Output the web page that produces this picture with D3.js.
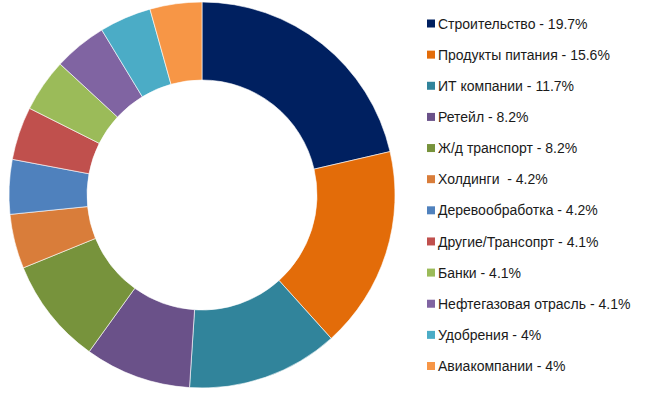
<!DOCTYPE html>
<html><head><meta charset="utf-8">
<script src="https://cdn.jsdelivr.net/npm/d3@7"></script>
<style>html,body{margin:0;padding:0;background:#fff;} text{white-space:pre;}</style>
</head><body>
<svg id="c" width="647" height="393"></svg>
<script>
const categories = ["Строительство","Продукты питания","ИТ компании","Ретейл","Ж/д транспорт","Холдинги ","Деревообработка","Другие/Трансопрт","Банки","Нефтегазовая отрасль","Удобрения","Авиакомпании"];
const values = [19.7,15.6,11.7,8.2,8.2,4.2,4.2,4.1,4.1,4.1,4,4];
const labels = ["19.7%","15.6%","11.7%","8.2%","8.2%","4.2%","4.2%","4.1%","4.1%","4.1%","4%","4%"];
const colors = ["#002060","#E36C09","#31849B","#6A5189","#77933C","#D97D3A","#4F81BD","#C0504D","#9BBB59","#8064A2","#4BACC6","#F79646"];

const svg = d3.select("#c");
const cx = 202, cy = 195, rOuter = 193, rInner = 115;
const pie = d3.pie().sort(null).value(d => d);
const arc = d3.arc().innerRadius(rInner).outerRadius(rOuter);
const color = d3.scaleOrdinal().domain(categories).range(colors);

svg.append("g").attr("transform", `translate(${cx},${cy})`)
  .selectAll("path").data(pie(values)).join("path")
  .attr("d", arc)
  .attr("fill", (d,i) => color(categories[i]))
  .attr("stroke", "#fff").attr("stroke-width", 0.6);

const y = d3.scalePoint().domain(categories).range([23.5, 366]);
const lg = svg.append("g");
const items = lg.selectAll("g").data(categories).join("g")
  .attr("transform", d => `translate(0,${y(d)})`);
items.append("rect").attr("x", 427).attr("y", -4).attr("width", 8).attr("height", 8)
  .attr("fill", d => color(d));
items.append("text").attr("x", 438).attr("y", 0).attr("dy", "0.36em")
  .attr("font-family", "Liberation Sans, Arial, sans-serif").attr("font-size", 14)
  .attr("fill", "#1a1a1a")
  .text((d,i) => d + " - " + labels[i]);
</script>
</body></html>
